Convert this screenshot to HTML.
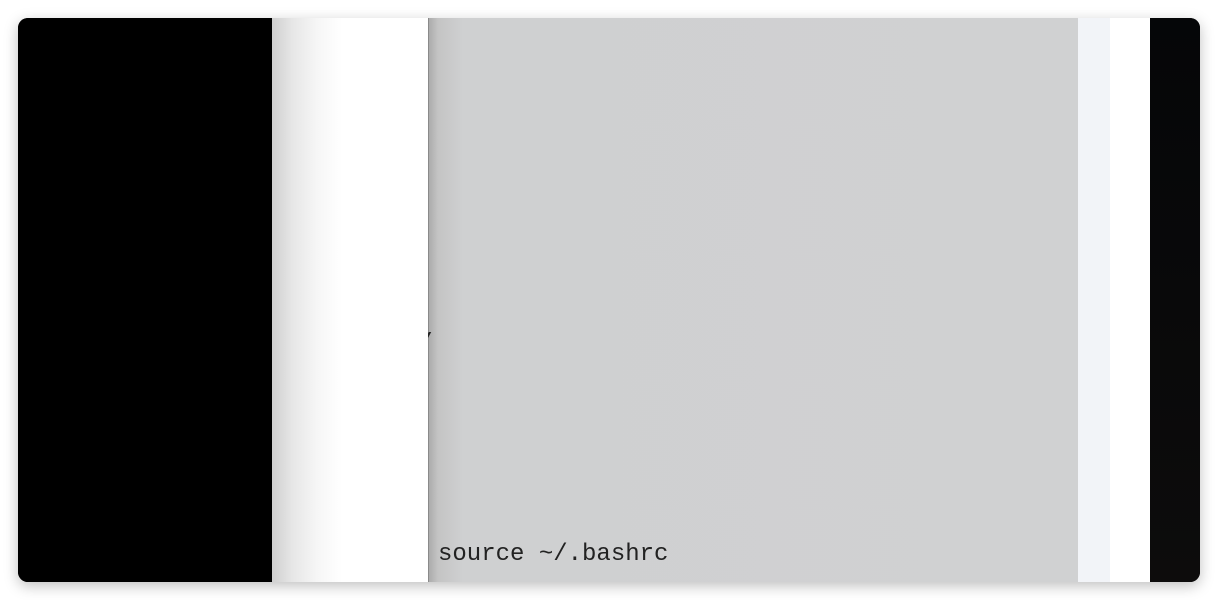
<!DOCTYPE html>
<html><head><meta charset="utf-8"><style>
html,body{margin:0;padding:0;width:1218px;height:600px;background:#fff;overflow:hidden}
.win{position:absolute;left:18px;top:18px;width:1182px;height:564px;border-radius:10px;overflow:hidden;box-shadow:0 4px 14px rgba(0,0,0,0.25);background:#000}
.b{position:absolute;top:0;height:564px}
.t{position:absolute;font-family:"Liberation Mono","DejaVu Sans Mono",monospace;font-size:24px;color:#222}
</style></head><body>
<div class="win">
  <div class="b" style="left:0;width:254px;background:#000"></div>
  <div class="b" style="left:254px;width:156px;background:linear-gradient(to right,#cfcfcf 0px,#e6e6e6 20px,#f6f6f6 45px,#fff 70px,#fff 100%)"></div>
  <div class="b" style="left:410px;width:650px;background:linear-gradient(to right,#a9a9a9 0px,#c4c4c4 10px,#cfd0d1 35px,#d0d1d2 100%)"></div>
  <div class="b" style="left:410px;width:1px;background:#8a8a8a"></div>
  <div class="b" style="left:1060px;width:32px;background:#f2f4f8"></div>
  <div class="b" style="left:1092px;width:40px;background:#fff"></div>
  <div class="b" style="left:1132px;width:50px;background:linear-gradient(#050608,#0d0c0c)"></div>
  <div class="t" style="left:398px;top:312px;font-size:28px;clip-path:inset(0 0 0 12px)">/</div>
  <div class="t" style="left:420px;top:523px">source ~/.bashrc</div>
</div>
</body></html>
